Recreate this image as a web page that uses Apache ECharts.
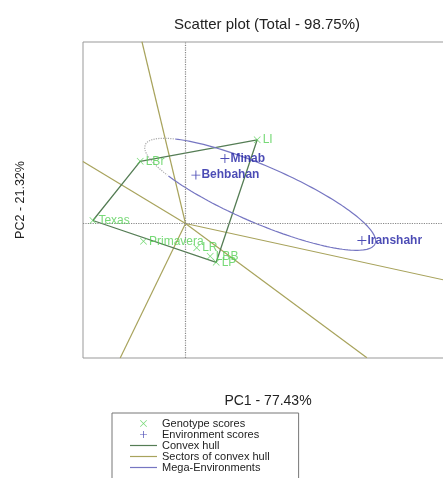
<!DOCTYPE html>
<html>
<head>
<meta charset="utf-8">
<script src="https://cdn.jsdelivr.net/npm/echarts@6/dist/echarts.min.js"></script>
<style>
  html, body { margin: 0; padding: 0; background: #fff; }
  #chart { width: 443px; height: 478px; }
</style>
</head>
<body>
<div id="chart"></div>
<script>
// genotype scores (PC1, PC2)
const genotypeNames = ['LI', 'LBr', 'Texas', 'Primavera', 'LR', 'LBB', 'LP']
const genotypePC1 = [1.434, -0.906, -1.852, -0.84, 0.224, 0.494, 0.614]
const genotypePC2 = [1.674, 1.244, 0.06, -0.356, -0.486, -0.656, -0.776]

// environment scores
const envNames = ['Minab', 'Behbahan', 'Iranshahr']
const envPC1 = [0.788, 0.208, 3.528]
const envPC2 = [1.30, 0.968, -0.34]

// convex hull vertices (genotype names, in order)
const hullOrder = ['Texas', 'LBr', 'LI', 'LP']

// rays from the origin, one end point each
const sectorPC1 = [-0.872, -2.052, 5.154, 3.628, -1.306]
const sectorPC2 = [3.64, 1.24, -1.126, -2.686, -2.692]

// mega-environment ellipse: centre, half axes, tilt (deg), dotted arc (deg)
const ellipseCenter = [1.494, 0.584]
const ellipseAxes = [2.504, 0.57]
const ellipseTilt = -23.3
const ellipseDotted = [144, 223]

const green = '#55cf55'
const blue = '#1e1ea2'
const hullColor = '#557d55'
const sectorColor = '#a8a35c'
const megaColor = '#7676c2'

const plusPath = 'path://M4.5,0h1v4.5h4.5v1h-4.5v4.5h-1v-4.5h-4.5v-1h4.5z'
const crossPath = 'path://M0,0.7L0.7,0L5,4.3L9.3,0L10,0.7L5.7,5L10,9.3L9.3,10L5,5.7L0.7,10L0,9.3L4.3,5z'
const linePath = 'path://M0,0h27v1.2h-27z'

// points along the ellipse between two angles
const ellipsePoints = (from, to) => {
  const pts = []
  const r = ellipseTilt * Math.PI / 180
  for (let d = from; d <= to; d += 2) {
    const t = d * Math.PI / 180
    const u = ellipseAxes[0] * Math.cos(t)
    const v = ellipseAxes[1] * Math.sin(t)
    pts.push([
      ellipseCenter[0] + u * Math.cos(r) - v * Math.sin(r),
      ellipseCenter[1] + u * Math.sin(r) + v * Math.cos(r)
    ])
  }
  return pts
}

const hullData = hullOrder.concat(hullOrder[0]).map(n => {
  const i = genotypeNames.indexOf(n)
  return [genotypePC1[i], genotypePC2[i]]
})

const sectorSeries = sectorPC1.map((x, i) => ({
  name: 'Sectors of convex hull',
  type: 'line',
  symbol: 'none',
  silent: true,
  z: 2,
  itemStyle: { color: sectorColor },
  lineStyle: { color: sectorColor, width: 1.2 },
  data: [[0, 0], [x, sectorPC2[i]]]
}))

const chart = echarts.init(document.getElementById('chart'))
chart.setOption({
  animation: false,
  textStyle: { fontFamily: 'Liberation Sans, Arial, sans-serif' },
  title: {
    text: 'Scatter plot (Total - 98.75%)',
    left: 262,
    top: 12,
    textAlign: 'center',
    textStyle: { fontSize: 15, fontWeight: 'normal', color: '#222' }
  },
  grid: {
    left: 83,
    top: 42,
    right: -10,
    bottom: 120,
    outerBoundsMode: 'none',
    show: true,
    borderColor: '#999',
    borderWidth: 1
  },
  xAxis: {
    type: 'value',
    min: -2.05,
    max: 5.35,
    name: 'PC1 - 77.43%',
    nameLocation: 'middle',
    nameGap: 36,
    nameTextStyle: { fontSize: 14, color: '#222' },
    axisLine: { show: false },
    axisTick: { show: false },
    axisLabel: { show: false },
    splitLine: { show: false }
  },
  yAxis: {
    type: 'value',
    min: -2.69,
    max: 3.63,
    name: 'PC2 - 21.32%',
    nameLocation: 'middle',
    nameGap: 56,
    nameTextStyle: { fontSize: 12.5, color: '#222' },
    axisLine: { show: false },
    axisTick: { show: false },
    axisLabel: { show: false },
    splitLine: { show: false }
  },
  legend: {
    orient: 'vertical',
    left: 112,
    top: 413,
    height: 90,
    padding: [5, 29, 12, 18],
    borderColor: '#777',
    borderWidth: 1,
    itemWidth: 27,
    itemHeight: 7,
    itemGap: 0,
    textStyle: { fontSize: 11, color: '#222', lineHeight: 11 },
    data: [
      { name: 'Genotype scores', icon: crossPath },
      { name: 'Environment scores', icon: plusPath },
      { name: 'Convex hull', icon: linePath },
      { name: 'Sectors of convex hull', icon: linePath },
      { name: 'Mega-Environments', icon: linePath }
    ]
  },
  series: [
    ...sectorSeries,
    {
      name: 'Convex hull',
      type: 'line',
      symbol: 'none',
      silent: true,
      z: 3,
      itemStyle: { color: hullColor },
      lineStyle: { color: hullColor, width: 1.3 },
      data: hullData
    },
    {
      name: 'Mega-Environments',
      type: 'line',
      symbol: 'none',
      silent: true,
      z: 3,
      itemStyle: { color: megaColor },
      lineStyle: { color: megaColor, width: 1.2 },
      data: ellipsePoints(ellipseDotted[1], 360 + ellipseDotted[0])
    },
    {
      name: 'mega-dotted',
      type: 'line',
      symbol: 'none',
      silent: true,
      z: 3,
      lineStyle: { color: '#aaa', width: 1.2, type: 'dotted' },
      data: ellipsePoints(ellipseDotted[0], ellipseDotted[1])
    },
    {
      name: 'axes',
      type: 'line',
      data: [],
      markLine: {
        silent: true,
        symbol: 'none',
        label: { show: false },
        lineStyle: { color: '#888', type: 'dotted', width: 1.2 },
        data: [{ xAxis: 0 }, { yAxis: 0 }]
      }
    },
    {
      name: 'Genotype scores',
      type: 'scatter',
      symbol: crossPath,
      symbolSize: 7,
      z: 5,
      itemStyle: { color: green },
      label: {
        show: true,
        position: 'right',
        distance: 2,
        color: green,
        fontSize: 12,
        formatter: p => genotypeNames[p.dataIndex]
      },
      data: genotypePC1.map((x, i) => [x, genotypePC2[i]])
    },
    {
      name: 'Environment scores',
      type: 'scatter',
      symbol: plusPath,
      symbolSize: 9,
      z: 5,
      itemStyle: { color: blue },
      label: {
        show: true,
        position: 'right',
        distance: 1,
        color: blue,
        fontSize: 12,
        fontWeight: 'bold',
        formatter: p => envNames[p.dataIndex]
      },
      data: envPC1.map((x, i) => [x, envPC2[i]])
    }
  ]
})
</script>
</body>
</html>
